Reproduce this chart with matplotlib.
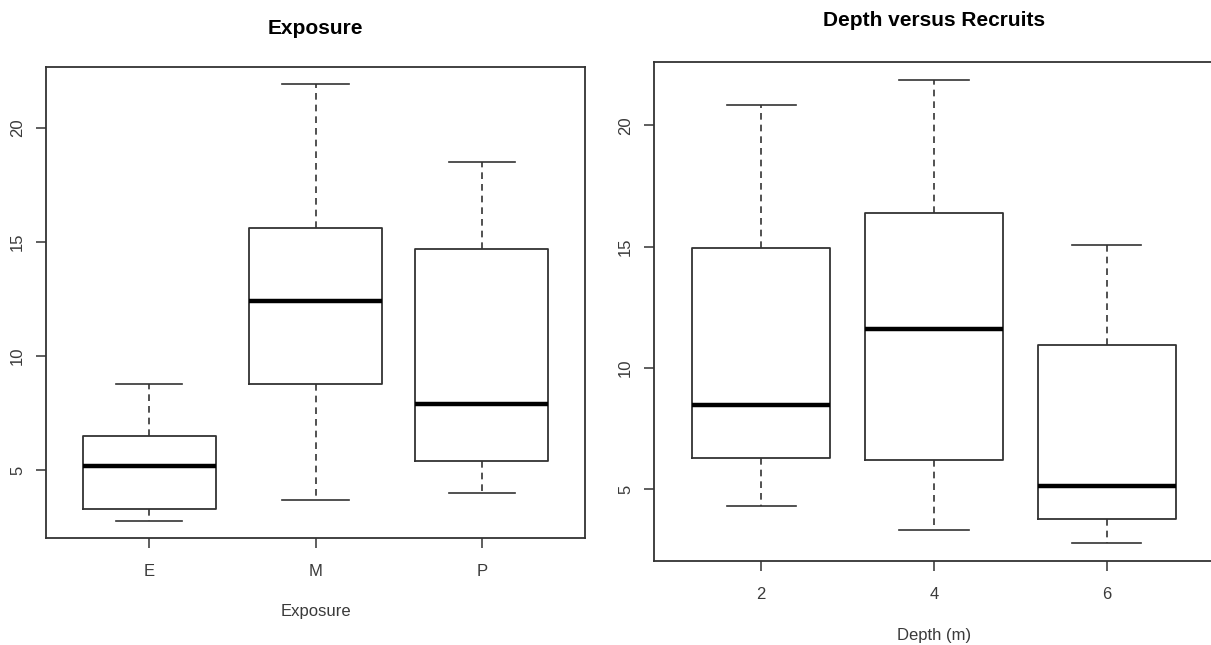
import matplotlib
matplotlib.use('Agg')
import matplotlib.pyplot as plt

plt.rcParams['font.family'] = ['Liberation Sans', 'DejaVu Sans']

# left panel: recruits by exposure
exposure_labels = ['E', 'M', 'P']
exposure_low = [2.8, 3.7, 4.0]
exposure_q1 = [3.3, 8.8, 5.4]
exposure_med = [5.2, 12.4, 7.9]
exposure_q3 = [6.5, 15.6, 14.7]
exposure_high = [8.8, 21.9, 18.5]

# right panel: recruits by depth
depth_labels = ['2', '4', '6']
depth_low = [4.3, 3.3, 2.8]
depth_q1 = [6.3, 6.2, 3.75]
depth_med = [8.45, 11.6, 5.15]
depth_q3 = [14.95, 16.4, 10.95]
depth_high = [20.85, 21.85, 15.05]

y_ticks = [5, 10, 15, 20]

EDGE = '#333333'
TEXT = '#3a3a3a'


def make_stats(labels, low, q1, med, q3, high):
    return [dict(label=l, whislo=a, q1=b, med=c, q3=d, whishi=e, fliers=[])
            for l, a, b, c, d, e in zip(labels, low, q1, med, q3, high)]


def draw(ax, stats, title, xlabel, title_y, xlabel_y):
    ax.bxp(stats, widths=0.8, showfliers=False,
           boxprops=dict(color=EDGE, lw=1.3),
           medianprops=dict(color='black', lw=3.2, solid_capstyle='butt'),
           whiskerprops=dict(color=EDGE, lw=1.2, linestyle=(0, (4, 3))),
           capprops=dict(color=EDGE, lw=1.2),
           capwidths=0.4)

    lo = min(s['whislo'] for s in stats)
    hi = max(s['whishi'] for s in stats)
    ax.set_xlim(0.38, len(stats) + 0.62)
    ax.set_ylim(lo - 0.04 * (hi - lo), hi + 0.04 * (hi - lo))

    ax.set_yticks(y_ticks)
    ax.set_yticklabels([str(t) for t in y_ticks], rotation=90, va='center')
    ax.tick_params(axis='both', length=7, width=1.1, color=EDGE,
                   labelsize=12, labelcolor=TEXT)
    ax.tick_params(axis='x', pad=12)
    ax.tick_params(axis='y', pad=8)

    for sp in ax.spines.values():
        sp.set_color(EDGE)
        sp.set_linewidth(1.3)

    ax.text(0.5, title_y, title, transform=ax.transAxes, ha='center', va='center',
            fontsize=15, fontweight='bold', color='black')
    ax.set_xlabel(xlabel, fontsize=12, color=TEXT)
    ax.xaxis.label.set_va('center')
    ax.xaxis.set_label_coords(0.5, xlabel_y)


fig = plt.figure(figsize=(12.11, 6.45), dpi=100, facecolor='white')
ax1 = fig.add_axes([46 / 1211, 1 - 538 / 645, 539 / 1211, 471 / 645])
ax2 = fig.add_axes([654 / 1211, 1 - 561 / 645, 560 / 1211, 499 / 645])

draw(ax1, make_stats(exposure_labels, exposure_low, exposure_q1, exposure_med,
                     exposure_q3, exposure_high),
     'Exposure', 'Exposure', 1.081, -0.155)
draw(ax2, make_stats(depth_labels, depth_low, depth_q1, depth_med,
                     depth_q3, depth_high),
     'Depth versus Recruits', 'Depth (m)', 1.084, -0.150)

fig.savefig('out.png', dpi=100, facecolor='white')
